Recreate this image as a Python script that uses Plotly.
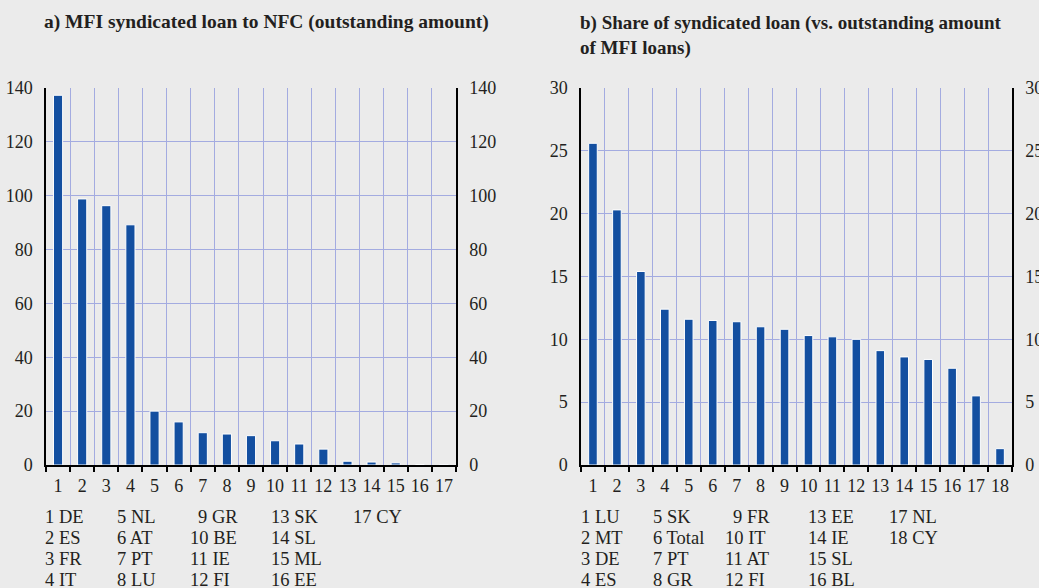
import plotly.graph_objects as go

# ---- data ----
cats_a = [str(i) for i in range(1, 18)]
values_a = [137.3, 98.8, 96.3, 89.2, 20.0, 16.0, 12.0, 11.5, 10.9, 9.0, 7.8, 5.9, 1.4, 1.1, 0.8, 0.2, 0.1]
countries_a = ["DE", "ES", "FR", "IT", "NL", "AT", "PT", "LU", "GR", "BE", "IE", "FI", "SK", "SL", "ML", "EE", "CY"]

cats_b = [str(i) for i in range(1, 19)]
values_b = [25.6, 20.3, 15.4, 12.4, 11.6, 11.5, 11.4, 11.0, 10.8, 10.3, 10.2, 10.0, 9.1, 8.6, 8.4, 7.7, 5.5, 1.3]
countries_b = ["LU", "MT", "DE", "ES", "SK", "Total", "PT", "GR", "FR", "IT", "AT", "FI", "EE", "IE", "SL", "BL", "NL", "CY"]

title_a = "a) MFI syndicated loan to NFC (outstanding amount)"
title_b = "b) Share of syndicated loan (vs. outstanding amount<br>of MFI loans)"

W, H = 1039, 588
BG = "#ebebeb"
BAR = "#134fa0"
GRID = "#a3abe0"
TXT = "#231f20"
FONT = "Liberation Serif"

def px(x):
    return x / W

def py(y):
    return 1 - y / H

fig = go.Figure()
fig.add_trace(go.Bar(x=cats_a, y=values_a, xaxis="x", yaxis="y",
                     marker=dict(color=BAR, line=dict(color="white", width=1)),
                     width=0.38, showlegend=False))
fig.add_trace(go.Bar(x=cats_b, y=values_b, xaxis="x2", yaxis="y3",
                     marker=dict(color=BAR, line=dict(color="white", width=1)),
                     width=0.36, showlegend=False))

ydom = [py(465), py(88)]
tickfont = dict(family=FONT, size=18, color=TXT)

def xaxis(dom, anchor, n):
    return dict(domain=dom, anchor=anchor, type="category", tickson="boundaries",
                range=[-0.5, n - 0.5],
                showgrid=True, gridcolor=GRID, gridwidth=1,
                showline=True, linecolor="black", linewidth=1.5,
                ticks="outside", ticklen=5, tickcolor="black", tickwidth=1.5,
                ticklabelstandoff=4, tickangle=0, automargin=False,
                tickfont=tickfont, zeroline=False, fixedrange=True)

def yaxis(rng, dtick, anchor, side="left", overlay=None, show_grid=True):
    d = dict(domain=ydom, anchor=anchor, range=rng, dtick=dtick, side=side,
             showgrid=show_grid, gridcolor=GRID, gridwidth=1,
             showline=True, linecolor="black", linewidth=1.5,
             ticks="", ticklabelstandoff=8, automargin=False,
             tickfont=tickfont, zeroline=False, fixedrange=True)
    if overlay:
        d["overlaying"] = overlay
    return d

dom_a = [px(46), px(456)]
dom_b = [px(581), px(1012)]

fig.update_layout(
    width=W, height=H, margin=dict(l=0, r=0, t=0, b=0, autoexpand=False),
    paper_bgcolor=BG, plot_bgcolor=BG, bargap=0.6,
    xaxis=xaxis(dom_a, "y", len(cats_a)),
    yaxis=yaxis([0, 140], 20, "x"),
    yaxis2=yaxis([0, 140], 20, "x", side="right", overlay="y", show_grid=False),
    xaxis2=xaxis(dom_b, "y3", len(cats_b)),
    yaxis3=yaxis([0, 30], 5, "x2"),
    yaxis4=yaxis([0, 30], 5, "x2", side="right", overlay="y3", show_grid=False),
)
# invisible traces to activate right-hand axes
fig.add_trace(go.Scatter(x=cats_a, y=values_a, xaxis="x", yaxis="y2", mode="markers",
                         marker=dict(opacity=0), hoverinfo="skip", showlegend=False))
fig.add_trace(go.Scatter(x=cats_b, y=values_b, xaxis="x2", yaxis="y4", mode="markers",
                         marker=dict(opacity=0), hoverinfo="skip", showlegend=False))

ann = []
ann.append(dict(text="<b>" + title_a + "</b>", x=px(266), y=py(22), xref="paper", yref="paper",
                xanchor="center", yanchor="middle", showarrow=False,
                font=dict(family=FONT, size=19.5, color=TXT)))
ann.append(dict(text="<b>" + title_b + "</b>", x=px(578), y=py(35), xref="paper", yref="paper",
                xanchor="left", yanchor="middle", align="left", showarrow=False,
                font=dict(family=FONT, size=19, color=TXT)))

rows_y = [517, 538, 559, 580]

def legend(countries, col_x):
    for i, c in enumerate(countries):
        col, row = divmod(i, 4)
        x = col_x[col]
        n = i + 1
        if n == 9:
            x += 8
        ann.append(dict(text=f"{n} {c}", x=px(x), y=py(rows_y[row]), xref="paper", yref="paper",
                        xanchor="left", yanchor="middle", showarrow=False,
                        font=dict(family=FONT, size=18.5, color=TXT)))

legend(countries_a, [43, 115, 188, 269, 351])
legend(countries_b, [579, 651, 723, 806, 887])

fig.update_layout(annotations=ann)
fig.write_html(
    "out.html",
    config={"displayModeBar": False},
    post_script="document.body.style.margin='0';document.body.style.overflow='hidden';"
                "document.body.style.background='#ebebeb';",
)
